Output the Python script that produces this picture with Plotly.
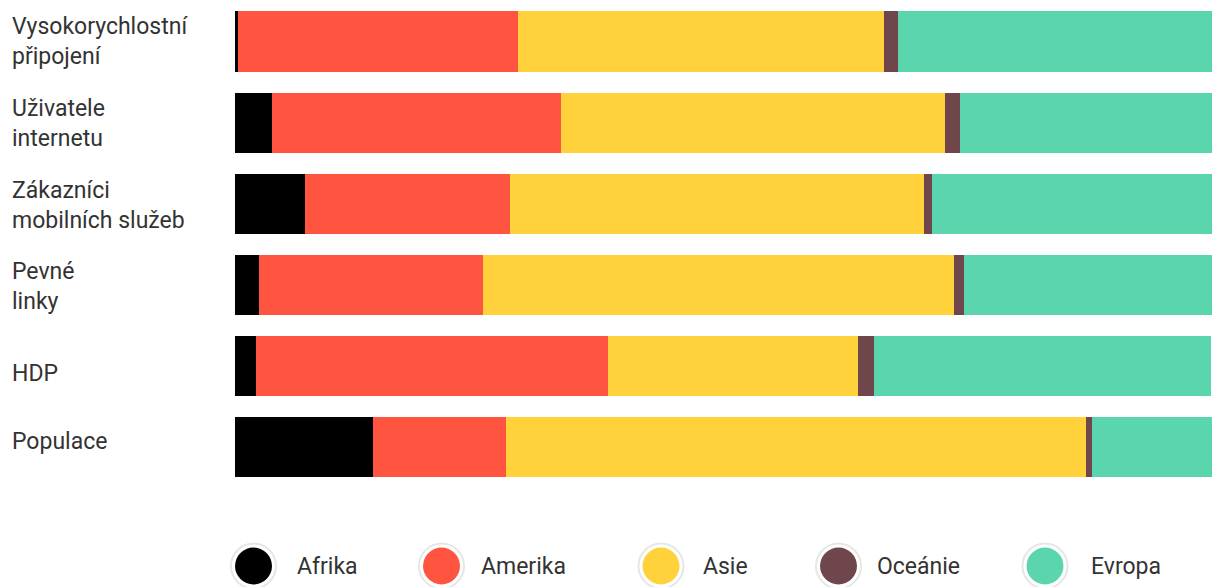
import plotly.graph_objects as go

categories = ["Vysokorychlostní<br>připojení", "Uživatele<br>internetu",
              "Zákazníci<br>mobilních služeb", "Pevné<br>linky", "HDP", "Populace"]
regions = ["Afrika", "Amerika", "Asie", "Oceánie", "Evropa"]
afrika  = [0.3, 3.8, 7.2, 2.5, 2.1, 14.1]
amerika = [28.7, 29.6, 20.9, 22.9, 36.1, 13.6]
asie    = [37.4, 39.3, 42.4, 48.2, 25.6, 59.4]
oceanie = [1.5, 1.5, 0.8, 1.0, 1.6, 0.6]
evropa  = [32.1, 25.8, 28.8, 25.4, 34.5, 12.3]
values = [afrika, amerika, asie, oceanie, evropa]
colors = ["#000000", "#FF5540", "#FFD23C", "#6E464B", "#5AD5AD"]

W, H = 1212, 587
FONT = "Roboto"
TXT = "#333333"

fig = go.Figure()
for name, vals, col in zip(regions, values, colors):
    fig.add_trace(go.Bar(
        y=categories, x=vals, name=name, orientation="h",
        marker=dict(color=col, line=dict(width=0)),
        xaxis="x", yaxis="y", showlegend=False, hoverinfo="x+name"))

# custom legend (circle markers with a light ring), positions in page pixels
leg_cx = [253.5, 441.5, 661, 838.5, 1045]
leg_tx = [297, 481, 703, 877, 1091]
leg_cy = 566
ly = H - leg_cy
fig.add_trace(go.Scatter(
    x=leg_cx, y=[ly] * len(leg_cx), mode="markers",
    marker=dict(size=45, color="white", line=dict(color="#e6e6e6", width=2)),
    xaxis="x2", yaxis="y2", showlegend=False, hoverinfo="skip", cliponaxis=False))
fig.add_trace(go.Scatter(
    x=leg_cx, y=[ly] * len(leg_cx), mode="markers",
    marker=dict(size=37, color=colors, line=dict(width=0)),
    xaxis="x2", yaxis="y2", showlegend=False, hoverinfo="skip", cliponaxis=False))

annotations = []
for tx, name in zip(leg_tx, regions):
    annotations.append(dict(x=tx, y=ly, xref="x2", yref="y2", text=name,
                            showarrow=False, xanchor="left", yanchor="middle",
                            xshift=-2, font=dict(family=FONT, size=23, color=TXT)))
label_yshift = [0, -1, -2, -2, -8, 6]
for c, ys in zip(categories, label_yshift):
    annotations.append(dict(x=12 / W, y=c, xref="paper", yref="y", text=c,
                            showarrow=False, xanchor="left", yanchor="middle", align="left",
                            xshift=-2, yshift=ys, font=dict(family=FONT, size=23, color=TXT)))

# bar area geometry (pixels): first bar centre 41.5, step 81.1
c0, step = 41.5, 81.1
top_px, bot_px = 1.0, 487.5
v_top = (top_px - c0) / step
v_bot = (bot_px - c0) / step
bottom = (H - bot_px) / (H - top_px)

fig.update_layout(
    width=W, height=H, barmode="stack", bargap=0.26,
    margin=dict(l=0, r=0, t=top_px, b=0),
    paper_bgcolor="white", plot_bgcolor="white",
    xaxis=dict(domain=[235 / W, 1], range=[0, 100], visible=False, fixedrange=True),
    yaxis=dict(domain=[bottom, 1], range=[v_bot, v_top], visible=False, fixedrange=True),
    xaxis2=dict(domain=[0, 1], range=[0, W], visible=False, anchor="y2", fixedrange=True),
    yaxis2=dict(domain=[0, bottom], range=[0, H - bot_px], visible=False, anchor="x2",
                fixedrange=True),
    annotations=annotations,
    font=dict(family=FONT, color=TXT),
)
fig.write_html("out.html",
               config={"displayModeBar": False},
               post_script="document.body.style.margin='0';"
                           "document.documentElement.style.overflow='hidden';")
